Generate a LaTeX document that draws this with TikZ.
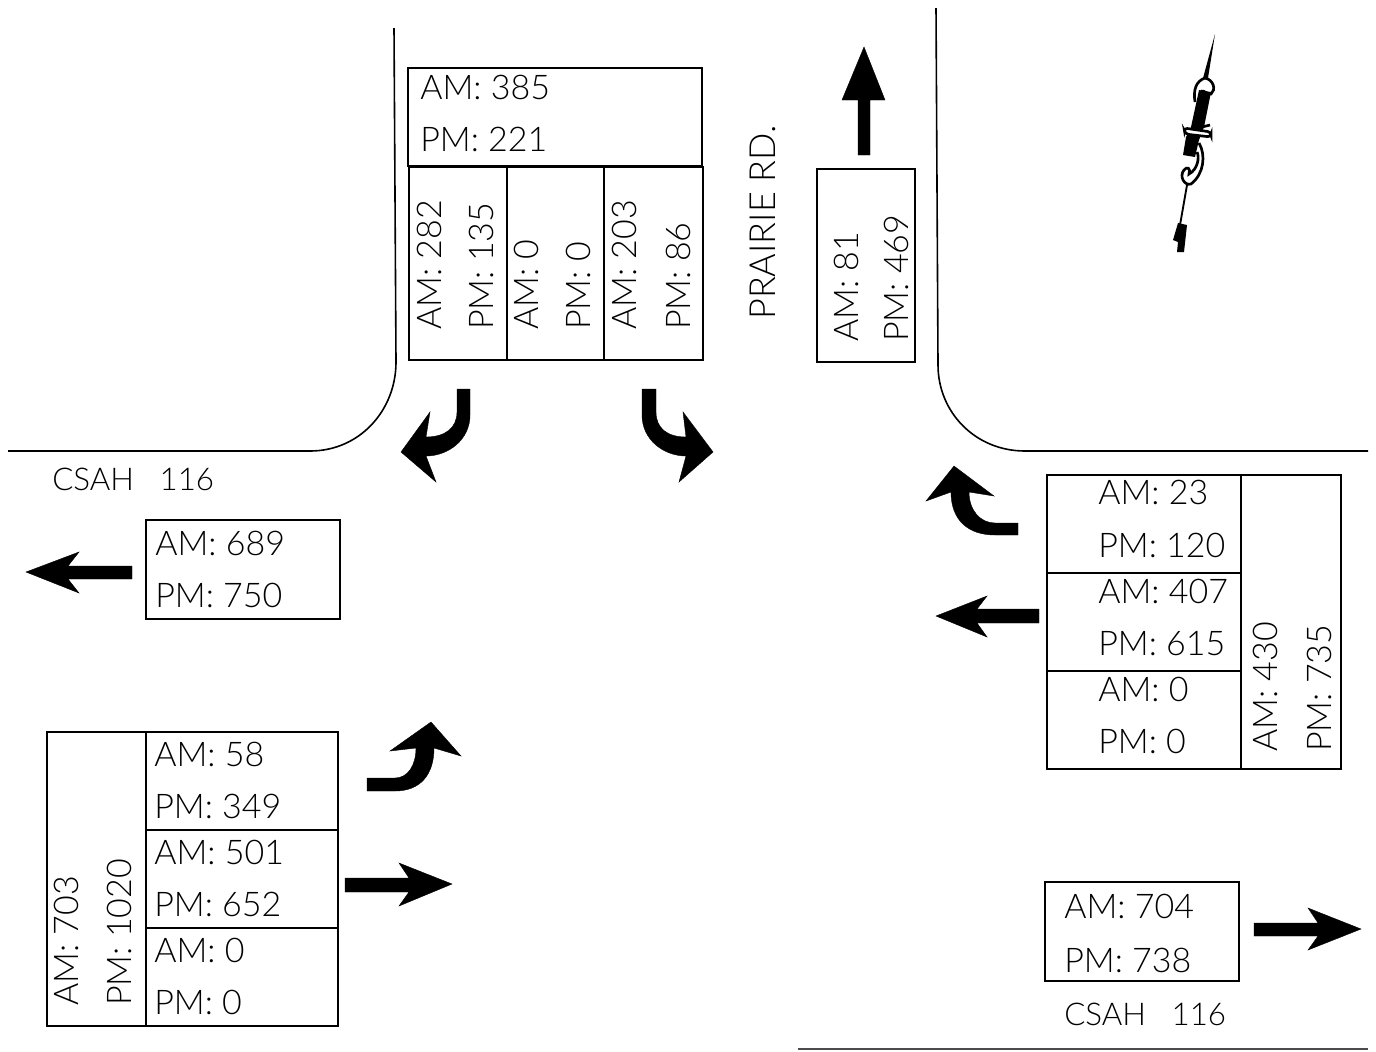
\documentclass[tikz,border=0pt]{standalone}
\usepackage{fontspec}
\setmainfont{Lato Light}
\tikzset{
  road/.style={draw=black,line width=1.2pt},
  boxline/.style={draw=black,line width=1.1pt},
  arrowshape/.style={fill=black,draw=black,line width=0.3pt,line join=miter},
  val/.style={inner sep=0pt,anchor=base west,font=\fontsize{25.5}{26}\selectfont},
  vval/.style={val,rotate=90},
  street/.style={inner sep=0pt,anchor=base west,font=\fontsize{23.5}{24}\selectfont},
  needle/.style={fill=black},
  curl/.style={draw=black,line width=2pt},
}
\begin{document}
\begin{tikzpicture}[x=0.75pt,y=-0.75pt]
\useasboundingbox (0,0) rectangle (1376,1051);
% roads
\draw[road] (394,28) -- (396,362) .. controls (396,410) and (360,451) .. (310,451) -- (8,451);
\draw[road] (936,8) -- (938,365) .. controls (938,412) and (975,451) .. (1025,451) -- (1368,451);
\draw[road,draw=black!70] (798,1049) -- (1368,1049);
% top boxes
\draw[boxline] (408,68) rectangle (702,166);
\draw[boxline] (409,167) rectangle (703,360);
\draw[boxline] (507,167) -- (507,360);
\draw[boxline] (604,167) -- (604,360);
\node[val] (n1) at (420,99) {AM: 385};
\node[val] (n2) at (420,151) {PM: 221};
\node[vval] (n3) at (441,330) {AM: 282};
\node[vval] (n4) at (493,330) {PM: 135};
\node[vval] (n5) at (538,330) {AM: 0};
\node[vval] (n6) at (590,330) {PM: 0};
\node[vval] (n7) at (636,330) {AM: 203};
\node[vval] (n8) at (690,330) {PM: 86};
\node[inner sep=0pt,anchor=base west,rotate=90,font=\fontsize{27}{27}\selectfont] (n9) at (775,320) {PRAIRIE RD.};
\draw[boxline] (817,169) rectangle (915,362);
\node[vval] (n10) at (858,342) {AM: 81};
\node[vval] (n11) at (908,342) {PM: 469};
% left
\node[street] (n12) at (52,490) {CSAH\ \ \ 116};
\draw[boxline] (146,520) rectangle (340,619);
\node[val] (n13) at (155,555) {AM: 689};
\node[val] (n14) at (155,607) {PM: 750};
% bottom left
\draw[boxline] (47,732) rectangle (338,1026);
\draw[boxline] (146,732) -- (146,1026);
\draw[boxline] (146,830) -- (338,830);
\draw[boxline] (146,928) -- (338,928);
\node[val] (n15) at (154,766) {AM: 58};
\node[val] (n16) at (154,818) {PM: 349};
\node[val] (n17) at (154,864) {AM: 501};
\node[val] (n18) at (154,916) {PM: 652};
\node[val] (n19) at (154,962) {AM: 0};
\node[val] (n20) at (154,1014) {PM: 0};
\node[vval] (n21) at (78,1006) {AM: 703};
\node[vval] (n22) at (131,1006) {PM: 1020};
% right
\draw[boxline] (1047,475) rectangle (1341,769);
\draw[boxline] (1241,475) -- (1241,769);
\draw[boxline] (1047,573) -- (1241,573);
\draw[boxline] (1047,671) -- (1241,671);
\node[val] (n23) at (1098,504) {AM: 23};
\node[val] (n24) at (1098,557) {PM: 120};
\node[val] (n25) at (1098,603) {AM: 407};
\node[val] (n26) at (1098,655) {PM: 615};
\node[val] (n27) at (1098,701) {AM: 0};
\node[val] (n28) at (1098,753) {PM: 0};
\node[vval] (n29) at (1277,752) {AM: 430};
\node[vval] (n30) at (1331,752) {PM: 735};
% bottom right
\draw[boxline] (1045,882) rectangle (1239,981);
\node[val] (n31) at (1064,918) {AM: 704};
\node[val] (n32) at (1064,972) {PM: 738};
\node[street] (n33) at (1064,1025) {CSAH\ \ \ 116};
% arrows
\fill[arrowshape] (858,155) -- (858,100) -- (842,100) -- (864,47) -- (885,100) -- (870,100) -- (870,155) -- cycle;
\fill[arrowshape] (457,389) -- (470,389) -- (470,415) .. controls (470,440) and (448,456) .. (426,456) -- (436,482) -- (401,452) -- (430,412) -- (426,437) .. controls (445,437) and (457,428) .. (457,412) -- cycle;
\fill[arrowshape] (656,389) -- (642,389) -- (642,415) .. controls (642,440) and (664,456) .. (686,456) -- (679,482) -- (713,452) -- (683,412) -- (686,437) .. controls (667,437) and (656,428) .. (656,412) -- cycle;
\fill[arrowshape] (367,778) -- (395,778) .. controls (408,778) and (416,765) .. (416,748) -- (390,751) -- (431,722) -- (461,756) -- (434,748) .. controls (434,775) and (420,791) .. (395,791) -- (367,791) -- cycle;
\fill[arrowshape] (345,878) -- (409,878) -- (399,863) -- (452,884) -- (399,906) -- (409,892) -- (345,892) -- cycle;
\fill[arrowshape] (1018,523) -- (995,523) .. controls (980,523) and (969,510) .. (969,492) -- (994,496) -- (954,466) -- (926,501) -- (951,492) .. controls (951,520) and (968,535) .. (995,535) -- (1018,535) -- cycle;
\fill[arrowshape] (1039,609) -- (977,609) -- (987,596) -- (936,616) -- (987,637) -- (977,623) -- (1039,623) -- cycle;
\fill[arrowshape] (132,566) -- (68,566) -- (79,552) -- (26,572) -- (79,593) -- (68,579) -- (132,579) -- cycle;
\fill[arrowshape] (1254,923) -- (1318,923) -- (1308,908) -- (1361,929) -- (1308,950) -- (1318,936) -- (1254,936) -- cycle;
% north arrow
\fill[needle] (1215,34) -- (1208,78) -- (1203,78) -- cycle;
\fill[needle] (1199,90) -- (1211,92) -- (1204,127) -- (1199,140) -- (1195,157) -- (1183,155) -- (1186,137) -- (1191,127) -- cycle;
\path[curl] (1205,78) .. controls (1196,81) and (1193,90) .. (1195,102);
\path[curl] (1205,78) .. controls (1214,80) and (1216,90) .. (1211,94) .. controls (1208,96) and (1205,90) .. (1201,91);
\path[curl] (1202,127) -- (1210,125);
\path[curl,fill=white,rounded corners=2.5pt] (1184,128) -- (1211,132) -- (1211,137) -- (1185,134) -- cycle;
\path[curl] (1199,143) .. controls (1206,155) and (1204,174) .. (1191,184) .. controls (1184,186) and (1179,176) .. (1184,170) .. controls (1187,166) and (1191,168) .. (1189,174) .. controls (1197,170) and (1200,158) .. (1197,152);
\draw[black,line width=1.4pt] (1187,185) -- (1180,225);
\fill[needle] (1178,223) -- (1187,225) -- (1184,252) -- (1177,252) -- (1178,242) -- (1173,240) -- cycle;
\end{tikzpicture}
\end{document}
